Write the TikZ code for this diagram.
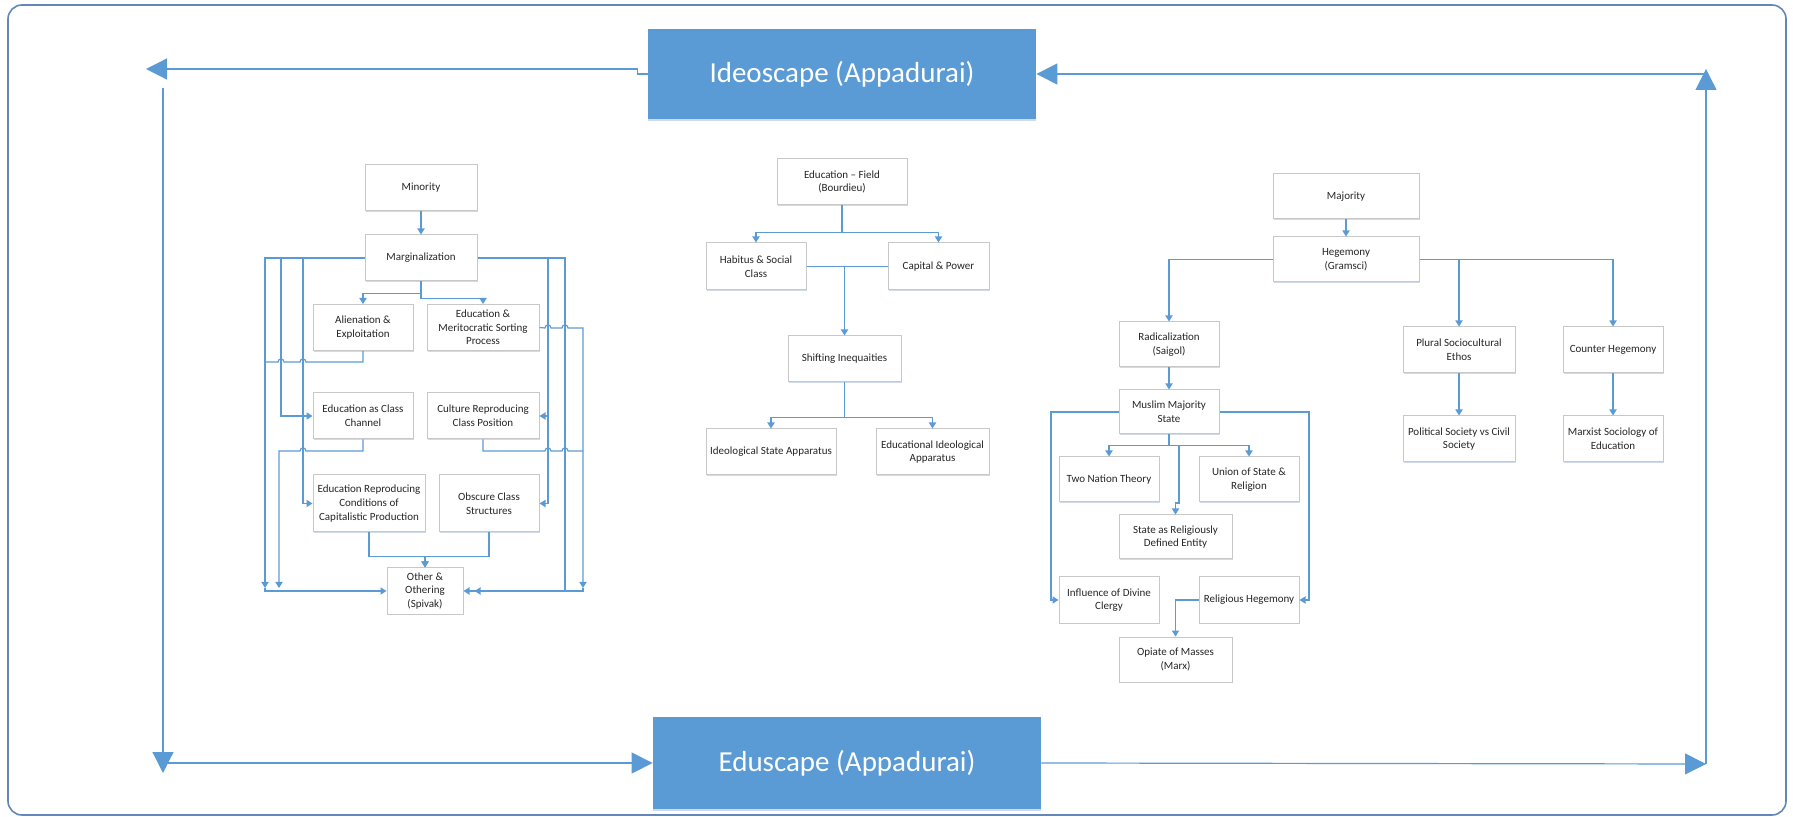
\documentclass[tikz,border=0pt]{standalone}
\usepackage{fontspec}
\setmainfont{Carlito}
\usetikzlibrary{arrows.meta}
\usetikzlibrary{shadows}
\definecolor{vblue}{RGB}{91,155,213}
\definecolor{vgray}{RGB}{200,200,200}
\definecolor{vshade}{RGB}{208,218,232}
\definecolor{vframe}{RGB}{100,135,185}
\newcommand{\hopR}[2]{-- (#1-3,#2) .. controls (#1-3,#2-4) and (#1+3,#2-4) .. (#1+3,#2)}
\newcommand{\hopL}[2]{-- (#1+3,#2) .. controls (#1+3,#2-4) and (#1-3,#2-4) .. (#1-3,#2)}

\begin{document}
\begin{tikzpicture}[x=0.5pt,y=-0.5pt,
 box/.style={draw=vgray,line width=0.5pt,fill=white,align=center,
  minimum width=50pt,minimum height=23pt,inner sep=1pt,
  font=\fontsize{5.5pt}{6.8pt}\selectfont,text=black!85,
  drop shadow={shadow xshift=0.4pt,shadow yshift=-0.6pt,fill=vshade,opacity=1}},
 bigbox/.style={fill=vblue,draw=none,minimum width=194pt,minimum height=45pt,
  font=\fontsize{14.5pt}{17pt}\selectfont,text=white,
  drop shadow={shadow xshift=0pt,shadow yshift=-1pt,fill=vshade,opacity=1}},
 link/.style={draw=vblue,line width=0.6pt,-{Triangle[length=3pt,width=3.6pt]}},
 wire/.style={draw=vblue,line width=0.6pt},
 big/.style={draw=vblue,line width=0.6pt,-{Triangle[length=10.5pt,width=10.5pt]}}]

  \useasboundingbox (0,0) rectangle (1793,817);
  \draw[vframe,line width=0.8pt,rounded corners=7pt] (8,5) rectangle (1786,815);

  % scapes
  \node[bigbox] (ideo) at (842,74) {Ideoscape (Appadurai)};
  \node[bigbox,minimum height=46pt] (edu) at (847,763) {Eduscape (Appadurai)};

  % minority side
  \node[box,minimum width=56pt] (minor) at (421,188) {Minority};
  \node[box,minimum width=56pt] (margin) at (421,258) {Marginalization};
  \node[box] (alien) at (363,327.5) {Alienation \&\\Exploitation};
  \node[box,minimum width=56pt] (merit) at (483,327.5) {Education \&\\Meritocratic Sorting\\Process};
  \node[box] (chan) at (363,416) {Education as Class\\Channel};
  \node[box,minimum width=56pt] (cult) at (483,416) {Culture Reproducing\\Class Position};
  \node[box,minimum width=56pt,minimum height=28.5pt] (repro) at (369,503.5) {Education Reproducing\\Conditions of\\Capitalistic Production};
  \node[box,minimum height=28.5pt] (obsc) at (489,503.5) {Obscure Class\\Structures};
  \node[box,minimum width=38pt] (other) at (425,591) {Other \&\\Othering\\(Spivak)};

  % field
  \node[box,minimum width=65pt] (field) at (842,182) {Education – Field\\(Bourdieu)};
  \node[box,minimum height=23.5pt] (habit) at (756,266.5) {Habitus \& Social\\Class};
  \node[box,minimum width=50.5pt,minimum height=23.5pt] (capit) at (938.5,266.5) {Capital \& Power};
  \node[box,minimum width=56.5pt] (shift) at (844.5,359) {Shifting Inequaities};
  \node[box,minimum width=65pt] (isa) at (771,452) {Ideological State Apparatus};
  \node[box,minimum width=56.5pt] (eia) at (932.5,452) {Educational Ideological\\Apparatus};

  % majority side
  \node[box,minimum width=73pt,minimum height=22.5pt] (major) at (1346,196.5) {Majority};
  \node[box,minimum width=73pt,minimum height=22.5pt] (hegem) at (1346,259.5) {Hegemony\\(Gramsci)};
  \node[box,minimum height=22.5pt] (radic) at (1169,344.5) {Radicalization\\(Saigol)};
  \node[box,minimum height=22pt] (muslim) at (1169,412) {Muslim Majority\\State};
  \node[box,minimum height=22.5pt] (twonat) at (1109,479.5) {Two Nation Theory};
  \node[box,minimum height=22.5pt] (union) at (1249,479.5) {Union of State \&\\Religion};
  \node[box,minimum width=56.5pt,minimum height=22pt] (relent) at (1175.5,537) {State as Religiously\\Defined Entity};
  \node[box] (divine) at (1109,600) {Influence of Divine\\Clergy};
  \node[box] (relheg) at (1249,600) {Religious Hegemony};
  \node[box,minimum width=56.5pt,minimum height=22.5pt] (opiate) at (1175.5,659.5) {Opiate of Masses\\(Marx)};
  \node[box,minimum width=56pt] (plural) at (1459,350) {Plural Sociocultural\\Ethos};
  \node[box] (counter) at (1613,350) {Counter Hegemony};
  \node[box,minimum width=56pt] (polsoc) at (1459,439) {Political Society vs Civil\\Society};
  \node[box] (marxist) at (1613,439) {Marxist Sociology of\\Education};

  % outer loop
  \coordinate (tl) at (146,69);
  \coordinate (lt) at (163,88);
  \coordinate (lb) at (163,773);
  \coordinate (rb) at (1706,764);
  \coordinate (rt) at (1706,69);
  \draw[big] (ideo.west) -- ++(-10,0) -- ++(0,-5) -- (tl);
  \draw[big] (lt) -- (lb);
  \draw[big] (lb |- edu.west) -- (edu.west);
  \draw[big] (edu.east) -- (rb);
  \draw[big] (rb) -- (rt);
  \draw[big] (rt |- ideo.east) -- (ideo.east);

  % minority side
  \coordinate (lfoot) at (265,588);
  \coordinate (cfoot) at (279,588);
  \coordinate (rfoot) at (583,588);
  \draw[link] (minor) -- (margin);
  \draw[link] (margin.south) -- ++(0,12) -| (alien.north);
  \draw[link] (margin.south) -- ++(0,17) -| (merit.north);
  \draw[link] (margin.west) -| (lfoot);
  \draw[link] (lfoot) |- (other.west);
  \draw[link] (margin.west) -| (281,416) -- (chan.west);
  \draw[link] (margin.west) -| (303,503.5) -- (repro.west);
  \draw[wire] (alien.south) -- (363,362) \hopL{303}{362} \hopL{281}{362} -- (265,362);
  \draw[link] (chan.south) -- (363,451) \hopL{303}{451} -- (279,451) -- (cfoot);
  \draw[link] (margin.east) -| (548,416) -- (cult.east);
  \draw[link] (margin.east) -| (548,503.5) -- (obsc.east);
  \draw[link] (margin.east) -| (565,591) -- (other.east);
  \draw[link] (merit.east) \hopR{548}{328} \hopR{565}{328} -- (583,328) -- (rfoot);
  \draw[wire] (cult.south) -- (483,451) \hopR{548}{451} \hopR{565}{451} -- (583,451);
  \draw[link] (rfoot) |- ([xshift=5.5pt]other.east);
  \draw[link] (repro.south) -- ++(0,24) -| (other.north);
  \draw[link] (obsc.south) -- ++(0,24) -| (other.north);

  % field
  \draw[link] (field.south) -- ++(0,27) -| (habit.north);
  \draw[link] (field.south) -- ++(0,27) -| (capit.north);
  \draw[wire] (habit.east) -- (capit.west);
  \draw[link] (shift.north |- habit.east) -- (shift.north);
  \draw[link] (shift.south) -- ++(0,35) -| (isa.north);
  \draw[link] (shift.south) -- ++(0,35) -| (eia.north);

  % majority side
  \draw[link] (major) -- (hegem);
  \draw[link] (hegem.west) -| (radic.north);
  \draw[link] (hegem.east) -| (plural.north);
  \draw[link] (hegem.east) -| (counter.north);
  \draw[link] (plural) -- (polsoc);
  \draw[link] (counter) -- (marxist);
  \draw[link] (radic) -- (muslim);
  \draw[link] (muslim.west) -| (1051,600) -- (divine.west);
  \draw[link] (muslim.east) -| (1309,600) -- (relheg.east);
  \draw[link] (muslim.south) -- ++(0,11) -| (twonat.north);
  \draw[link] (muslim.south) -- ++(0,11) -| (union.north);
  \draw[link] (muslim.south) -- ++(0,11) -| (1179,503) -| (relent.north);
  \draw[link] (relheg.west) -| (opiate.north);

\end{tikzpicture}
\end{document}
